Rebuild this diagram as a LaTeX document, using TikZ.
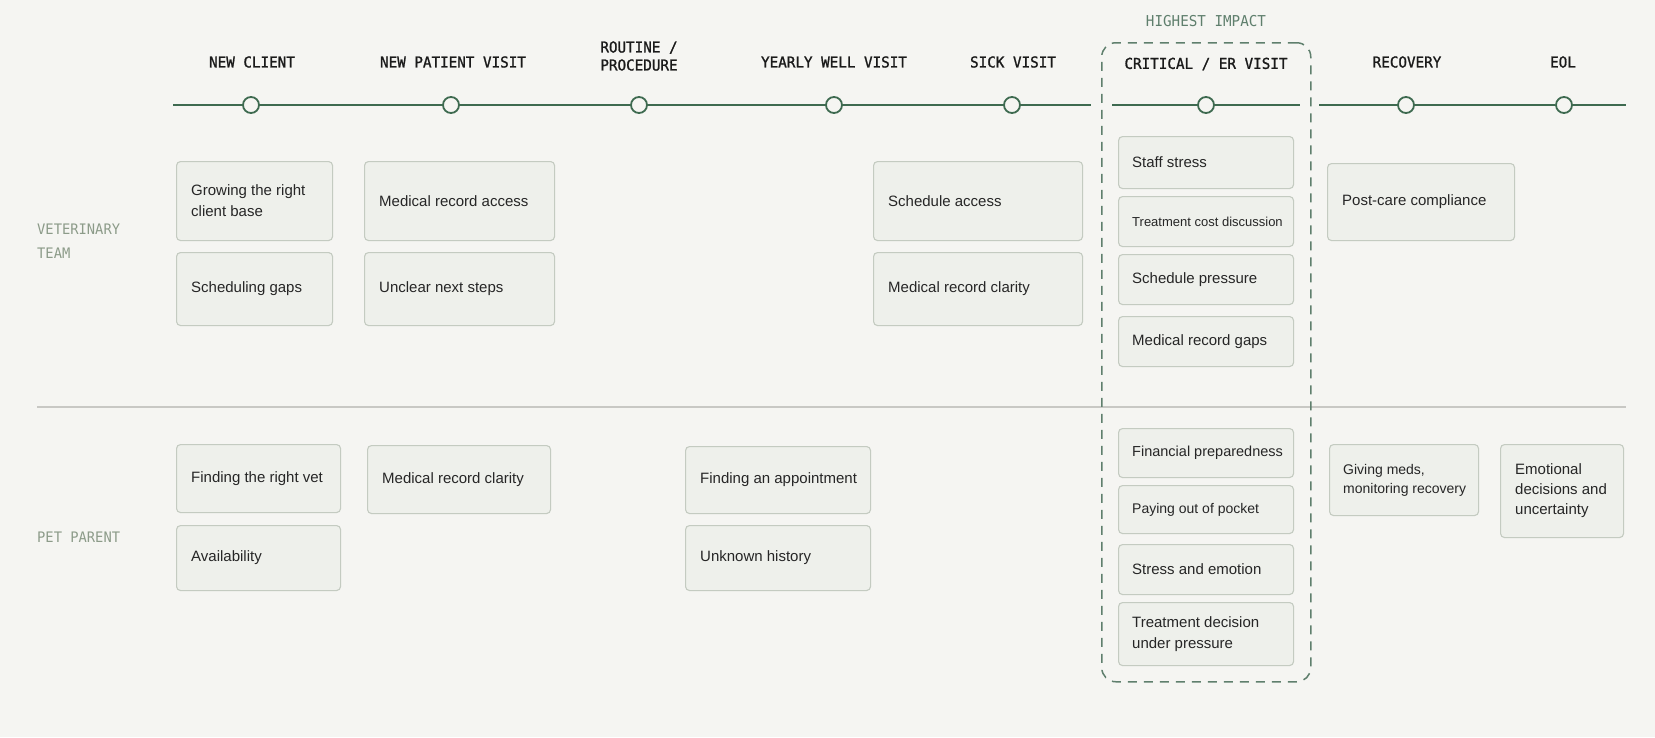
\documentclass[tikz,border=0pt]{standalone}
\usepackage{fontspec}
\setmainfont{Liberation Sans}
\newfontfamily\monof[FakeStretch=0.95]{DejaVu Sans Mono}
\newfontfamily\monohead[FakeStretch=0.95,FakeBold=1.2]{DejaVu Sans Mono}
\definecolor{bg}{HTML}{F5F5F2}
\definecolor{cardfill}{HTML}{EEF0EB}
\definecolor{cardline}{HTML}{C4CBC1}
\definecolor{tlgreen}{HTML}{3E6A50}
\definecolor{dashc}{HTML}{5F7F6D}
\definecolor{sidec}{HTML}{8C9B89}
\definecolor{headc}{HTML}{1A1A1A}
\definecolor{sepc}{HTML}{C8C8C4}
\definecolor{textdark}{HTML}{262626}
\tikzset{
  card/.style={draw=cardline, fill=cardfill, rounded corners=4pt, line width=1.1pt, inner sep=0pt},
  cardtext/.style={align=left, inner sep=0pt, text=textdark, font=\fontsize{15}{21}\selectfont},
  headtext/.style={align=center, inner sep=0pt, text=headc, font=\monohead\fontsize{15}{18}\selectfont},
  sidetext/.style={align=left, inner sep=0pt, text=sidec, font=\monof\fontsize{14.5}{24}\selectfont},
  tlnode/.style={circle, draw=tlgreen, fill=bg, line width=1.8pt, minimum size=16pt, inner sep=0pt},
  tlline/.style={draw=tlgreen, line width=2pt},
  hibox/.style={draw=dashc, line width=1.5pt, dash pattern=on 9pt off 7pt, rounded corners=14pt, inner sep=0pt},
}
\newcommand\cardbox[7][]{%
  \pgfmathsetmacro\cw{#5-#3}\pgfmathsetmacro\ch{#6-#4}%
  \node[card,minimum width=\cw pt,minimum height=\ch pt,anchor=north west] (#2) at (#3,#4) {};
  \node[cardtext,#1,anchor=west] (#2t) at ([xshift=15pt]#2.west) {#7};}
\begin{document}
\begin{tikzpicture}[x=1pt,y=-1pt]
\useasboundingbox (0,0) rectangle (1655,737);
\fill[bg] (0,0) rectangle (1655,737);
% separator
\coordinate (sepA) at (37,407);
\coordinate (sepB) at (1626,407);
\draw[sepc, line width=1.1pt] (sepA) -- (sepB);
% highest impact box
\node[hibox, minimum width=209pt, minimum height=639pt, anchor=north west] (hi) at (1101,42) {};
\node[text=dashc, inner sep=0pt, font=\monof\fontsize{15}{18}\selectfont] (hilab) at (1206,21) {HIGHEST IMPACT};
% timeline
\coordinate (s1) at (173,105); \coordinate (e1) at (1091,105);
\coordinate (s2) at (1112,105); \coordinate (e2) at (1300,105);
\coordinate (s3) at (1319,105); \coordinate (e3) at (1626,105);
\node[tlnode] (c1) at (251,105) {};
\node[tlnode] (c2) at (451,105) {};
\node[tlnode] (c3) at (639,105) {};
\node[tlnode] (c4) at (834,105) {};
\node[tlnode] (c5) at (1012,105) {};
\node[tlnode] (c6) at (1206,105) {};
\node[tlnode] (c7) at (1406,105) {};
\node[tlnode] (c8) at (1564,105) {};
\draw[tlline] (s1) -- (c1) -- (c2) -- (c3) -- (c4) -- (c5) -- (e1);
\draw[tlline] (s2) -- (c6) -- (e2);
\draw[tlline] (s3) -- (c7) -- (c8) -- (e3);
% headers
\node[headtext] (h1) at (252,62) {NEW CLIENT};
\node[headtext] (h2) at (453,62) {NEW PATIENT VISIT};
\node[headtext] (h3) at (639,56) {ROUTINE /\\PROCEDURE};
\node[headtext] (h4) at (834,62) {YEARLY WELL VISIT};
\node[headtext] (h5) at (1013,62) {SICK VISIT};
\node[headtext] (h6) at (1206,64) {CRITICAL / ER VISIT};
\node[headtext] (h7) at (1407,62) {RECOVERY};
\node[headtext] (h8) at (1563,62) {EOL};
% side labels
\node[sidetext, anchor=west] (lv) at (37,241) {VETERINARY\\TEAM};
\node[sidetext, anchor=west] (lp) at (37,537) {PET PARENT};
% veterinary team cards
\cardbox{vg1}{176}{161}{332}{240}{Growing the right\\client base}
\cardbox{vg2}{176}{252}{332}{325}{Scheduling gaps}
\cardbox{vn1}{364}{161}{554}{240}{Medical record access}
\cardbox{vn2}{364}{252}{554}{325}{Unclear next steps}
\cardbox{vs1}{873}{161}{1082}{240}{Schedule access}
\cardbox{vs2}{873}{252}{1082}{325}{Medical record clarity}
\cardbox[xshift=-1pt]{vc1}{1118}{136}{1293}{188}{Staff stress}
\cardbox[xshift=-1pt,font=\fontsize{13}{18}\selectfont]{vc2}{1118}{196}{1293}{246}{Treatment cost discussion}
\cardbox[xshift=-1pt]{vc3}{1118}{254}{1293}{304}{Schedule pressure}
\cardbox[xshift=-1pt]{vc4}{1118}{316}{1293}{366}{Medical record gaps}
\cardbox{vr1}{1327}{163}{1514}{240}{Post-care compliance}
% pet parent cards
\cardbox{pn1}{176}{444}{340}{512}{Finding the right vet}
\cardbox{pn2}{176}{525}{340}{590}{Availability}
\cardbox{pp1}{367}{445}{550}{513}{Medical record clarity}
\cardbox{py1}{685}{446}{870}{513}{Finding an appointment}
\cardbox{py2}{685}{525}{870}{590}{Unknown history}
\cardbox[xshift=-1pt,font=\fontsize{14.5}{20}\selectfont]{pc1}{1118}{428}{1293}{477}{Financial preparedness}
\cardbox[xshift=-1pt,font=\fontsize{14}{20}\selectfont]{pc2}{1118}{485}{1293}{533}{Paying out of pocket}
\cardbox[xshift=-1pt]{pc3}{1118}{544}{1293}{594}{Stress and emotion}
\cardbox[xshift=-1pt]{pc4}{1118}{602}{1293}{665}{Treatment decision\\under pressure}
\cardbox[xshift=-1pt,font=\fontsize{14}{19}\selectfont]{pr1}{1329}{444}{1478}{515}{Giving meds,\\monitoring recovery}
\cardbox[font=\fontsize{15}{20}\selectfont]{pe1}{1500}{444}{1623}{537}{Emotional\\decisions and\\uncertainty}
\end{tikzpicture}
\end{document}
